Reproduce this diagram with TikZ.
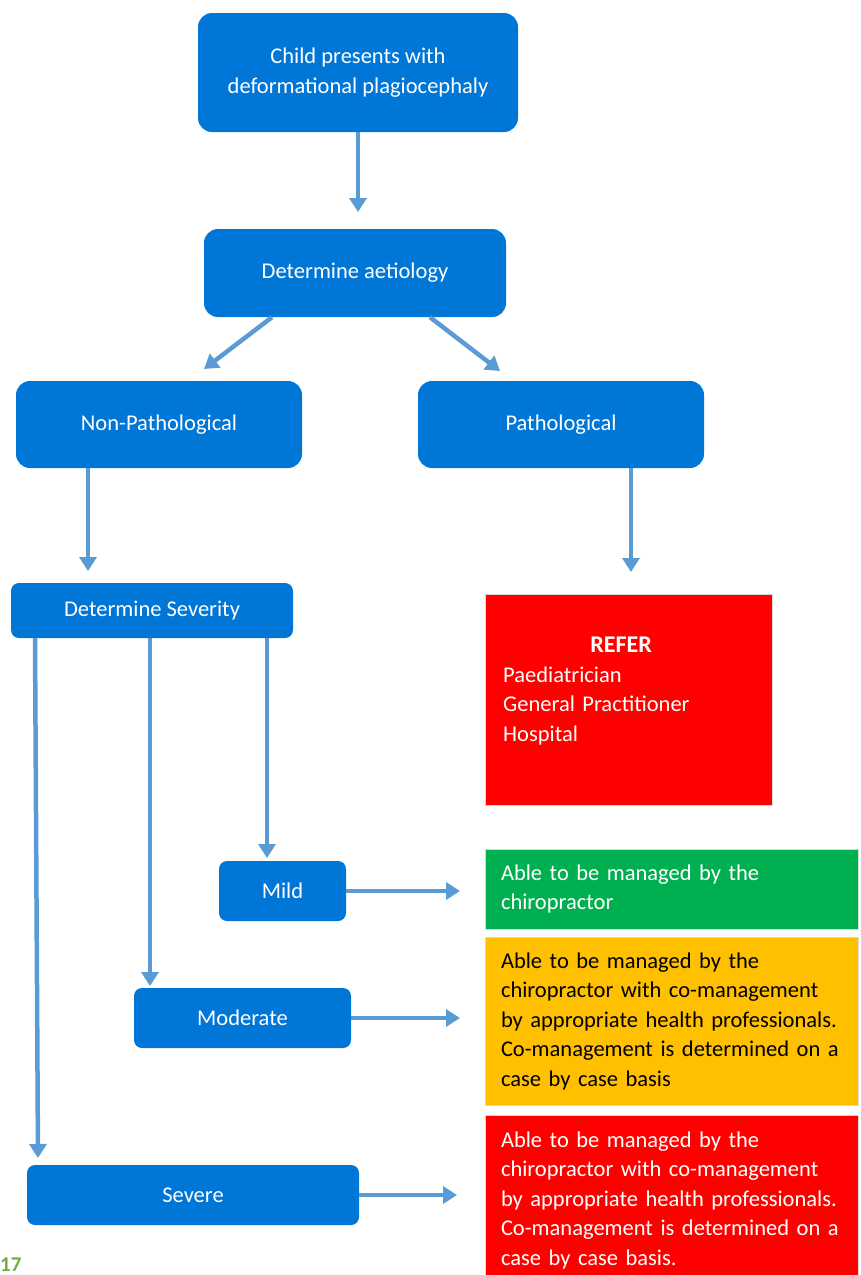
\documentclass[tikz,border=0pt]{standalone}
\usepackage{fontspec}
\setmainfont{Carlito}
\usetikzlibrary{arrows.meta}
\definecolor{boxblue}{RGB}{0,118,215}
\definecolor{arrowblue}{RGB}{91,155,213}
\definecolor{okgreen}{RGB}{0,176,80}
\definecolor{amber}{RGB}{255,192,0}
\definecolor{alarmred}{RGB}{255,0,0}
\definecolor{pagegreen}{RGB}{112,173,71}
\tikzset{
  bluebox/.style={fill=boxblue, text=white, rounded corners=14pt, align=center, inner sep=0pt,
    font=\fontsize{22.5}{29.5}\selectfont},
  colbox/.style={draw=white!85!black, line width=0.6pt, inner xsep=16pt, inner ysep=0pt, align=left,
    text width=341pt, font=\fontsize{22.5}{29.5}\selectfont},
  conn/.style={draw=arrowblue, line width=4.5pt, -{Triangle[length=14pt,width=17pt]}}
}
\begin{document}
\begin{tikzpicture}[x=1pt,y=-1pt]
\useasboundingbox (0,0) rectangle (860,1275);
% blue boxes
\node[bluebox, minimum width=320pt, minimum height=119pt] (b1) at (358,72.5) {Child presents with\\deformational plagiocephaly};
\node[bluebox, minimum width=302pt, minimum height=88pt] (b2) at (355,273) {Determine aetiology};
\node[bluebox, minimum width=286pt, minimum height=87pt] (np) at (159,424.5) {Non-Pathological};
\node[bluebox, minimum width=286pt, minimum height=87pt] (pa) at (561,424.5) {Pathological};
\node[bluebox, rounded corners=8pt, minimum width=282pt, minimum height=55pt] (sev) at (152,610.5) {Determine Severity};
\node[bluebox, rounded corners=8pt, minimum width=127pt, minimum height=60pt] (mild) at (282.5,891) {Mild};
\node[bluebox, rounded corners=8pt, minimum width=217pt, minimum height=60pt] (mod) at (242.5,1018) {Moderate};
\node[bluebox, rounded corners=8pt, minimum width=332pt, minimum height=60pt] (sevr) at (193,1195) {Severe};
% refer box
\node[draw=white!85!black, line width=0.6pt, fill=alarmred, minimum width=287pt, minimum height=211pt, inner sep=0pt] (refer) at (628.5,699.5) {};
\node[anchor=north west, text=white, align=left, inner sep=0pt, text width=250pt,
  font=\fontsize{22.5}{29.5}\selectfont] (refertxt) at (503,637)
  {\makebox[236pt]{\fontsize{24}{29.5}\selectfont\textbf{REFER}}\\Paediatrician\\General Practitioner\\Hospital};
% outcome boxes
\node[colbox, fill=okgreen, text=white, minimum height=80pt] (green) at (671.5,889)
  {Able to be managed by the\\chiropractor};
\node[colbox, fill=amber, text=black, minimum height=168pt] (orange) at (671.5,1021)
  {Able to be managed by the\\chiropractor with co-management\\by appropriate health professionals.\\Co-management is determined on a\\case by case basis};
\node[colbox, fill=alarmred, text=white, minimum height=170pt] (red) at (671.5,1200)
  {Able to be managed by the\\chiropractor with co-management\\by appropriate health professionals.\\Co-management is determined on a\\case by case basis.};
% page number
\node[anchor=north west, inner sep=0pt, text=pagegreen, font=\fontsize{21}{24}\selectfont\bfseries] (pnum) at (0,1258) {17};
% connector ends
\coordinate (e1) at (358,212);
\coordinate (e2) at (204,369);
\coordinate (e3) at (500,371);
\coordinate (e4) at (88,571);
\coordinate (e5) at (631,572);
\coordinate (e6) at (38,1158);
\coordinate (e7) at (150,986);
\coordinate (e8) at (267,858);
\coordinate (e9) at (460,891);
\coordinate (e10) at (460,1018);
\coordinate (e11) at (457,1195);
% connectors
\draw[conn] (b1.south) -- (e1);
\draw[conn] ([xshift=-83pt]b2.south) -- (e2);
\draw[conn] ([xshift=75pt]b2.south) -- (e3);
\draw[conn] ([xshift=-71pt]np.south) -- (e4);
\draw[conn] ([xshift=70pt]pa.south) -- (e5);
\draw[conn] ([xshift=-117pt]sev.south) -- (e6);
\draw[conn] ([xshift=-2pt]sev.south) -- (e7);
\draw[conn] ([xshift=115pt]sev.south) -- (e8);
\draw[conn] (mild.east) -- (e9);
\draw[conn] (mod.east) -- (e10);
\draw[conn] (sevr.east) -- (e11);
\end{tikzpicture}
\end{document}
